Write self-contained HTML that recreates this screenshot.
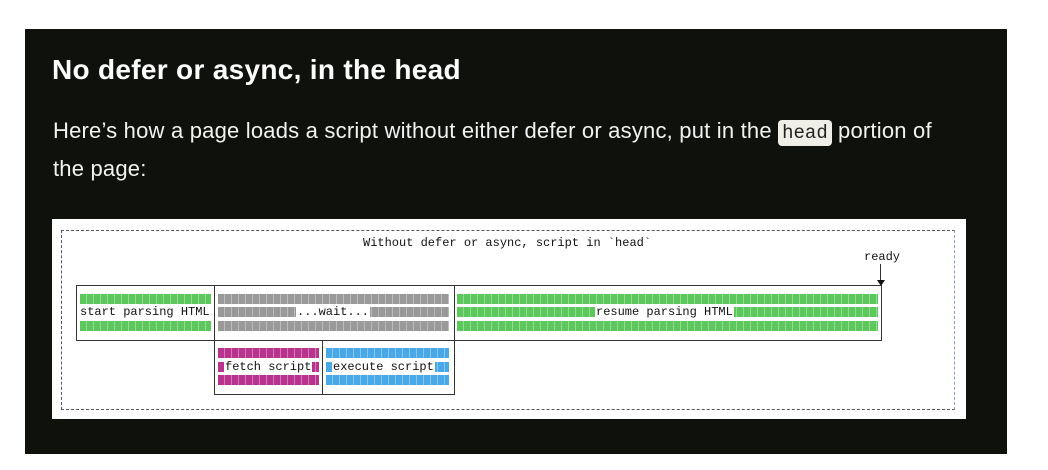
<!DOCTYPE html>
<html><head><meta charset="utf-8"><style>
body{margin:0;width:1048px;height:470px;background:#fff;position:relative;overflow:hidden;font-family:"Liberation Sans",sans-serif}
.a{position:absolute}
#panel{left:25px;top:29px;width:982px;height:425px;background:#0f120c}
h1{position:absolute;left:52px;top:54px;margin:0;font-size:28px;font-weight:bold;color:#fff;white-space:nowrap;letter-spacing:0.3px}
.p{position:absolute;left:53px;color:#f2f2f2;font-size:22px;white-space:nowrap;letter-spacing:0.2px}
code{font-family:"Liberation Mono",monospace;background:#efefe8;color:#222;border-radius:4px;padding:2px 4px;font-size:19px;letter-spacing:0}
.m{font-family:"Liberation Mono",monospace;font-size:12px;color:#111;white-space:nowrap;line-height:11px}
.bar{position:absolute;height:10px;background-image:repeating-linear-gradient(90deg,transparent 0 6px,rgba(255,255,255,.35) 6px 7px)}
.g{background-color:#5cc85c}.gr{background-color:#999}.mg{background-color:#b8338e}.bl{background-color:#48a8e8}
.lbl{position:absolute;background:#fff;padding:0 1px}
</style></head><body>
<div id="panel" class="a"></div>
<h1>No defer or async, in the head</h1>
<div class="p" style="top:118px">Here’s how a page loads a script without either defer or async, put in the <code>head</code> portion of</div>
<div class="p" style="top:156px">the page:</div>
<div class="a" style="left:52px;top:219px;width:914px;height:200px;background:#fff"></div>
<div class="a" style="left:61px;top:230px;width:892px;height:178px;border:1px dashed #555;border-right-color:#8899cc"></div>
<div class="a m" style="left:363px;top:238px">Without defer or async, script in `head`</div>
<div class="a m" style="left:864px;top:252px">ready</div>
<div class="a" style="left:880px;top:264px;width:1px;height:16px;background:#333"></div>
<div class="a" style="left:877px;top:280px;width:0;height:0;border-left:4px solid transparent;border-right:4px solid transparent;border-top:6px solid #111"></div>
<div class="a" style="left:76px;top:285px;width:804px;height:54px;border:1px solid #333"></div>
<div class="a" style="left:214px;top:285px;width:1px;height:110px;background:#333"></div>
<div class="a" style="left:454px;top:285px;width:1px;height:110px;background:#333"></div>
<div class="a" style="left:214px;top:394px;width:241px;height:1px;background:#333"></div>
<div class="a" style="left:322px;top:340px;width:1px;height:55px;background:#333"></div>
<div class="bar g" style="left:80px;top:294px;width:131px"></div>
<div class="bar g" style="left:80px;top:307px;width:131px"></div>
<div class="bar g" style="left:80px;top:321px;width:131px"></div>
<div class="a m lbl" style="left:79px;top:307px">start parsing HTML</div>
<div class="bar gr" style="left:218px;top:294px;width:231px"></div>
<div class="bar gr" style="left:218px;top:307px;width:231px"></div>
<div class="bar gr" style="left:218px;top:321px;width:231px"></div>
<div class="a m lbl" style="left:296px;top:307px">...wait...</div>
<div class="bar g" style="left:457px;top:294px;width:421px"></div>
<div class="bar g" style="left:457px;top:307px;width:421px"></div>
<div class="bar g" style="left:457px;top:321px;width:421px"></div>
<div class="a m lbl" style="left:595px;top:307px">resume parsing HTML</div>
<div class="bar mg" style="left:218px;top:348px;width:101px"></div>
<div class="bar mg" style="left:218px;top:362px;width:101px"></div>
<div class="bar mg" style="left:218px;top:375px;width:101px"></div>
<div class="a m lbl" style="left:224px;top:362px">fetch script</div>
<div class="bar bl" style="left:326px;top:348px;width:123px"></div>
<div class="bar bl" style="left:326px;top:362px;width:123px"></div>
<div class="bar bl" style="left:326px;top:375px;width:123px"></div>
<div class="a m lbl" style="left:332px;top:362px">execute script</div>
</body></html>
